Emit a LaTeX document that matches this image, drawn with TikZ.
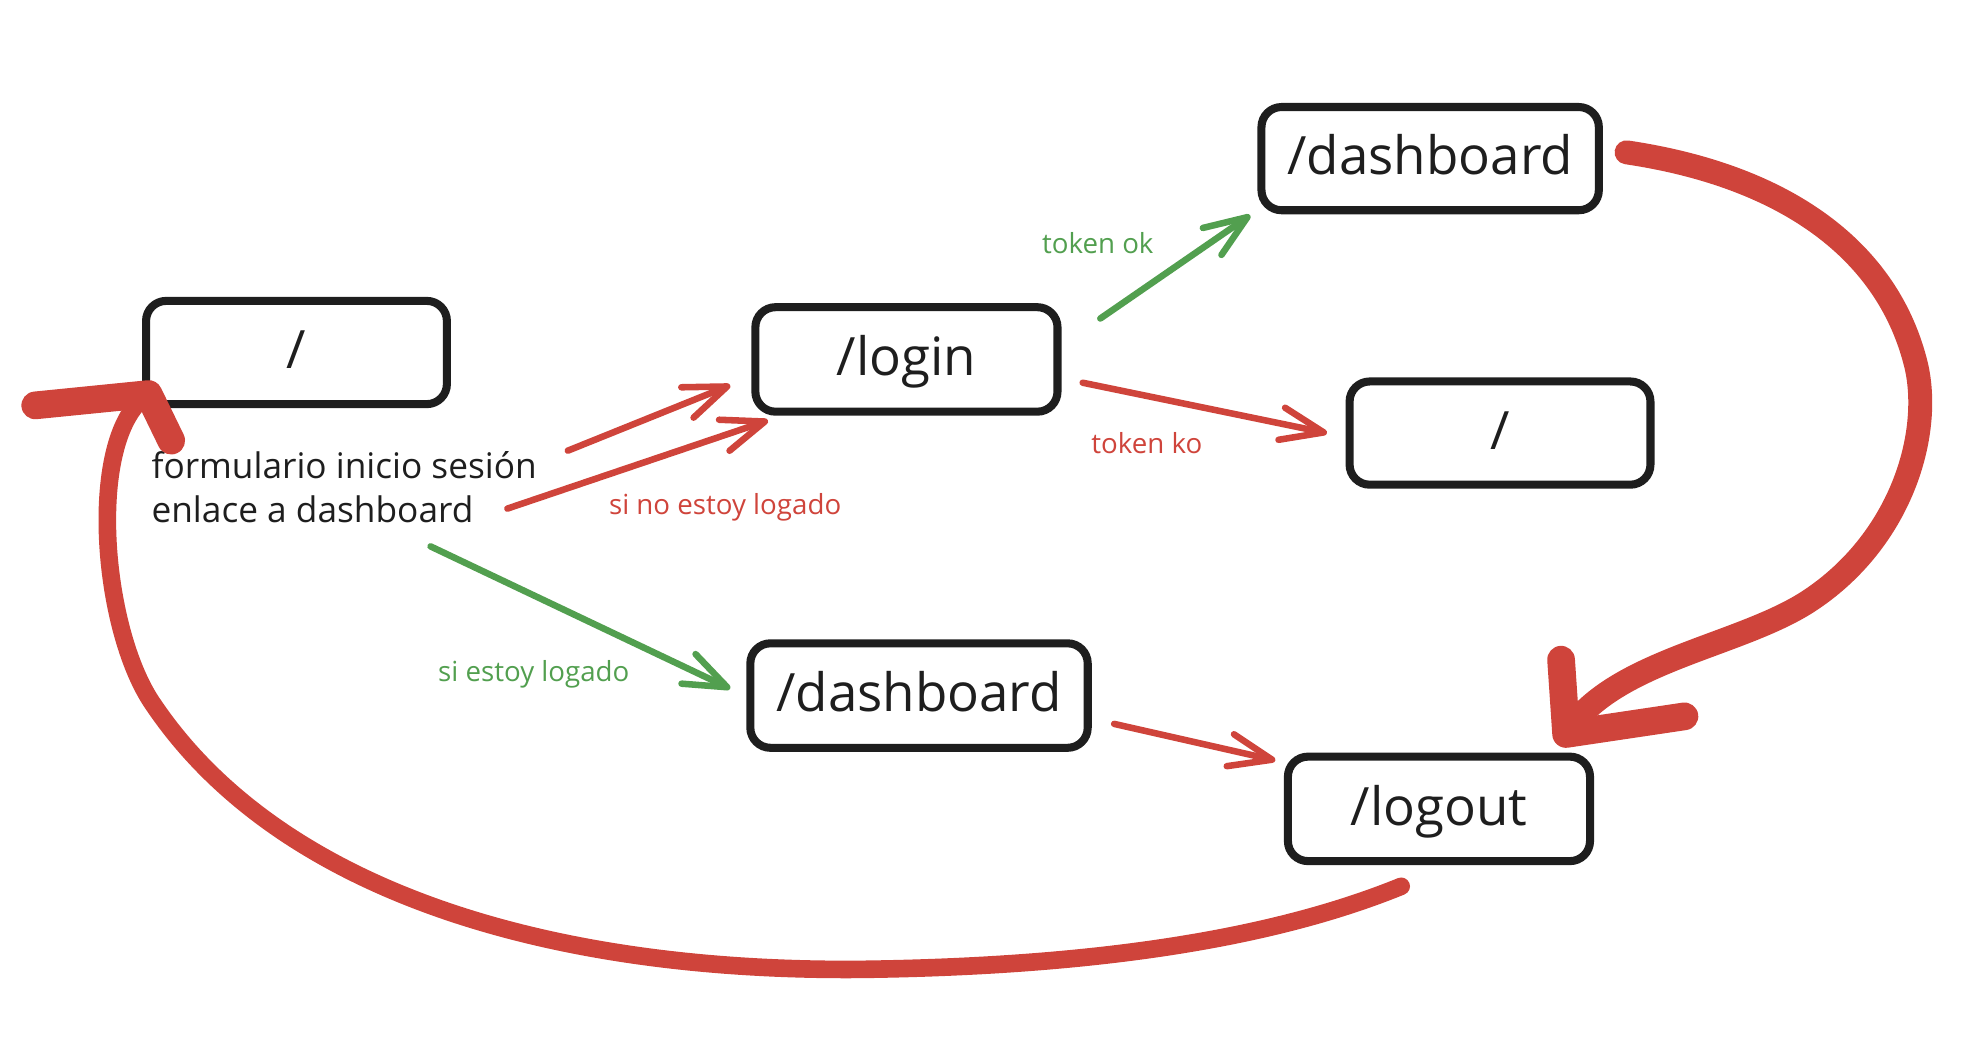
\documentclass[tikz,border=0pt]{standalone}
\usepackage{fontspec}
\setmainfont{Open Sans}
\usetikzlibrary{arrows.meta}
\definecolor{ink}{HTML}{1E1E1E}
\definecolor{myred}{HTML}{CF443B}
\definecolor{mygreen}{HTML}{529F4F}
\begin{document}
\begin{tikzpicture}[x=0.5pt,y=-0.5pt,
  route/.style={draw=ink, line width=3.2pt, rounded corners=8pt, inner sep=0pt, text=ink,
    font=\fontsize{21}{25}\selectfont, text height=15pt, text depth=2pt},
  lbl/.style={inner sep=0pt, font=\fontsize{11}{13}\selectfont, anchor=base},
  thinarrow/.style={line width=2.6pt, line cap=round, -{Straight Barb[length=17pt,width=13pt,round]}},
  redthin/.style={thinarrow, draw=myred},
  greenthin/.style={thinarrow, draw=mygreen},
  bigcurve/.style={draw=myred, line cap=round, line join=round},
]
\useasboundingbox (0,0) rectangle (1568,825);

% route boxes
\node[route, minimum width=119.5pt, minimum height=41pt] (root) at (235.5,280) {/};
\node[route, minimum width=120pt, minimum height=41.5pt] (login) at (720,285.5) {/login};
\node[route, minimum width=134pt, minimum height=41pt] (dashtop) at (1136,126) {/dashboard};
\node[route, minimum width=119.5pt, minimum height=41pt] (rootko) at (1191.5,344) {/};
\node[route, minimum width=134pt, minimum height=41.5pt] (dashmid) at (730,552.5) {/dashboard};
\node[route, minimum width=120pt, minimum height=41.5pt] (logout) at (1143,642.5) {/logout};

% caption under root
\node[anchor=north west, inner sep=0pt, align=left, text=ink,
  font=\fontsize{14}{17.5}\selectfont] (form) at (120,358)
  {formulario inicio sesión\\enlace a dashboard};

% labels
\node[lbl, text=myred] (lnolog) at (576,409) {si no estoy logado};
\node[lbl, text=mygreen] (lok) at (872,201) {token ok};
\node[lbl, text=myred] (lko) at (911,360) {token ko};
\node[lbl, text=mygreen] (llog) at (424,541) {si estoy logado};

% connector ends
\coordinate (a1s) at (451,358); \coordinate (a1e) at (580,306);
\coordinate (a2s) at (403,404); \coordinate (a2e) at (610,334);
\coordinate (a3s) at (874,253); \coordinate (a3e) at (993,171);
\coordinate (a4s) at (860,304); \coordinate (a4e) at (1054,344);
\coordinate (a5s) at (342,434); \coordinate (a5e) at (580,547);
\coordinate (a6s) at (885,575); \coordinate (a6e) at (1013,604);

\draw[redthin] (a1s) -- (a1e);
\draw[redthin] (a2s) -- (a2e);
\draw[greenthin] (a3s) -- (a3e);
\draw[redthin] (a4s) -- (a4e);
\draw[greenthin] (a5s) -- (a5e);
\draw[redthin] (a6s) -- (a6e);

% big curve dashboard -> logout
\coordinate (c1s) at (1292,121);
\coordinate (c1e) at (1244,583);
\draw[bigcurve, line width=9.5pt] (c1s) .. controls (1420,140) and (1500,200) .. (1522,290)
  .. controls (1535,345) and (1510,430) .. (1436,478)
  .. controls (1380,514) and (1280,525) .. (c1e);
\draw[bigcurve, line width=11pt] (1240,524) -- (c1e) -- (1338,569);

% big curve logout -> root
\coordinate (c2s) at (1113,704);
\coordinate (c2e) at (118,313);
\draw[bigcurve, line width=7pt] (c2s) .. controls (1000,750) and (850,768) .. (683,770)
  .. controls (430,772) and (220,705) .. (122,560)
  .. controls (80,500) and (68,345) .. (c2e);
\draw[bigcurve, line width=11pt] (28,322) -- (c2e) -- (136,350);
\end{tikzpicture}
\end{document}
